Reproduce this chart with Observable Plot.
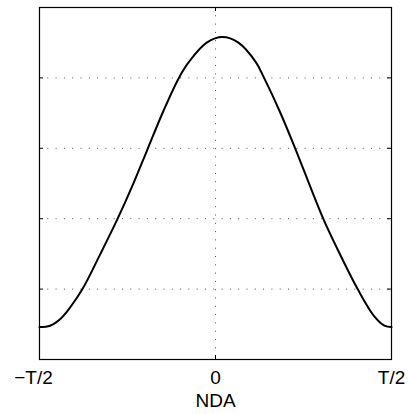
<!DOCTYPE html>
<html>
<head>
<meta charset="utf-8">
<script src="https://cdn.jsdelivr.net/npm/d3@7"></script>
<script src="https://cdn.jsdelivr.net/npm/@observablehq/plot@0.6"></script>
<style>
  html, body { margin: 0; padding: 0; background: #fff; }
</style>
</head>
<body>
<div id="chart"></div>
<script>
// Curve samples (x in units of T, y in arbitrary units 0..5)
const curveX = [-0.5, -0.47, -0.44, -0.41, -0.378, -0.328, -0.278, -0.235, -0.192, -0.148, -0.104, -0.075, -0.025, 0.02, 0.065, 0.115, 0.138, 0.182, 0.2263, 0.306, 0.355, 0.4038, 0.45, 0.48, 0.5];
const curveY = [0.46, 0.48, 0.58, 0.76, 1.0, 1.49, 2.0, 2.48, 3.0, 3.53, 4.0, 4.23, 4.50, 4.58, 4.50, 4.22, 4.0, 3.53, 3.0, 2.0, 1.48, 1.0, 0.62, 0.48, 0.46];

const xTicks = [-0.5, 0, 0.5];
const xTickLabels = ["\u2212T/2", "0", "T/2"];
const yGrid = [1, 2, 3, 4];
const xGrid = [0];
const xLabel = "NDA";

const W = 408, H = 414;
const mL = 39, mR = 17, mT = 7, mB = 55;
const innerW = W - mL - mR, innerH = H - mT - mB;
const tick = 4;

const curve = curveX.map((x, i) => ({x, y: curveY[i]}));
const dot = {stroke: "#000", strokeOpacity: 0.7, strokeWidth: 1, strokeDasharray: "1,7.3"};

const chart = Plot.plot({
  width: W, height: H,
  marginLeft: mL, marginRight: mR, marginTop: mT, marginBottom: mB,
  style: {fontFamily: "'Liberation Sans', Arial, Helvetica, sans-serif", background: "#fff", color: "#000"},
  x: {domain: [-0.5, 0.5], axis: null},
  y: {domain: [0, 5], axis: null},
  marks: [
    Plot.gridY(yGrid, dot),
    Plot.gridX(xGrid, dot),
    Plot.tickX(xTicks, {x: d => d, stroke: "#000", insetTop: innerH - tick}),
    Plot.tickX(xTicks, {x: d => d, stroke: "#000", insetBottom: innerH - tick}),
    Plot.tickY(yGrid, {y: d => d, stroke: "#000", insetRight: innerW - tick}),
    Plot.tickY(yGrid, {y: d => d, stroke: "#000", insetLeft: innerW - tick}),
    Plot.line(curve, {x: "x", y: "y", stroke: "#000", strokeWidth: 2, curve: "catmull-rom"}),
    Plot.frame({stroke: "#000", strokeWidth: 1.2}),
    Plot.text(xTicks, {filter: (d, i) => i === 0, x: d => d, text: (d, i) => xTickLabels[0], frameAnchor: "bottom", lineAnchor: "top", dy: 10.5, dx: -6, fontSize: 19, fill: "#000"}),
    Plot.text(xTicks.slice(1), {x: d => d, text: (d, i) => xTickLabels[i + 1], frameAnchor: "bottom", lineAnchor: "top", dy: 10.5, fontSize: 19, fill: "#000"}),
    Plot.text([xLabel], {text: d => d, frameAnchor: "bottom", lineAnchor: "top", dy: 34, fontSize: 19, fill: "#000"})
  ]
});
document.getElementById("chart").appendChild(chart);
</script>
</body>
</html>
